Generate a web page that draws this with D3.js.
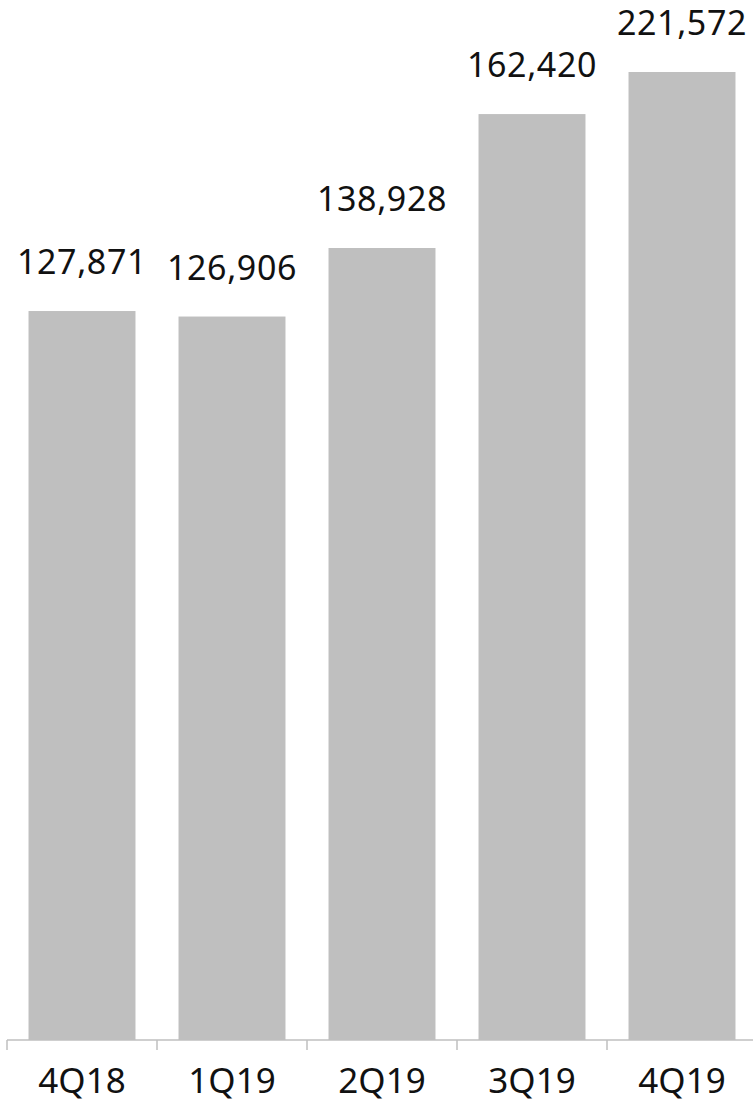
<!DOCTYPE html>
<html>
<head>
<meta charset="utf-8">
<script src="https://cdn.jsdelivr.net/npm/d3@7/dist/d3.min.js"></script>
<style>
  html, body { margin: 0; padding: 0; background: #ffffff; }
  svg { display: block; }
  text { font-family: "Noto Sans", "Open Sans", sans-serif; }
</style>
</head>
<body>
<svg id="chart" width="753" height="1102"></svg>
<script>
const categories = ["4Q18", "1Q19", "2Q19", "3Q19", "4Q19"];
const values = [127871, 126906, 138928, 162420, 221572];
const valueLabels = ["127,871", "126,906", "138,928", "162,420", "221,572"];

const baseY = 1040;
const svg = d3.select("#chart");

const x = d3.scaleBand()
  .domain(categories)
  .range([7, 757])
  .paddingInner(0.287)
  .paddingOuter(0.1435);

// linear from zero; the tallest bar is capped at the top of the plot
const y = d3.scaleLinear()
  .domain([0, 169800])
  .range([baseY, 72])
  .clamp(true);

svg.append("g").selectAll("rect")
  .data(values)
  .join("rect")
  .attr("x", (d, i) => x(categories[i]))
  .attr("y", d => y(d))
  .attr("width", x.bandwidth())
  .attr("height", d => baseY - y(d))
  .attr("fill", "#bfbfbf");

svg.append("g").selectAll("text")
  .data(values)
  .join("text")
  .attr("x", (d, i) => x(categories[i]) + x.bandwidth() / 2)
  .attr("y", d => y(d) - 37)
  .attr("text-anchor", "middle")
  .attr("font-size", 34)
  .attr("letter-spacing", 0.6)
  .attr("fill", "#111")
  .text((d, i) => valueLabels[i]);

// axis
const step = x.step();
const half = step * x.paddingInner() / 2;
const bounds = categories.map(c => x(c) - half).concat([x(categories[categories.length - 1]) + x.bandwidth() + half]);
const ax = svg.append("g");
ax.append("line")
  .attr("x1", bounds[0]).attr("x2", bounds[bounds.length - 1])
  .attr("y1", baseY).attr("y2", baseY)
  .attr("stroke", "#bfbfbf").attr("stroke-width", 1.5);
ax.selectAll("line.tick")
  .data(bounds)
  .join("line")
  .attr("class", "tick")
  .attr("x1", d => d).attr("x2", d => d)
  .attr("y1", baseY).attr("y2", baseY + 10)
  .attr("stroke", "#bfbfbf").attr("stroke-width", 1.5);
ax.selectAll("text")
  .data(categories)
  .join("text")
  .attr("x", d => x(d) + x.bandwidth() / 2)
  .attr("y", 1093)
  .attr("text-anchor", "middle")
  .attr("font-size", 35)
  .attr("fill", "#111")
  .text(d => d);
</script>
</body>
</html>
